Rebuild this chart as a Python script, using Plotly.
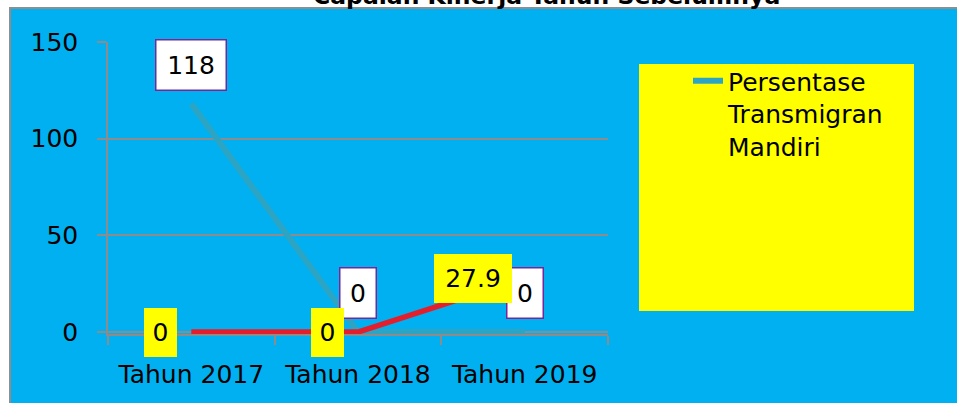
import plotly.graph_objects as go

# ---- data ----
categories = ["Tahun 2017", "Tahun 2018", "Tahun 2019"]
persentase_transmigran_mandiri = [118, 0, 0]
seri_kedua = [0, 0, 27.9]
y_ticks = [0, 50, 100, 150]
title_text = "Capaian Kinerja Tahun Sebelumnya"
legend_name = "Persentase<br>Transmigran<br>Mandiri"

# ---- layout constants ----
W, H = 957, 403
L, R, T, B = 108, 349, 42, 69
PW, PH = W - L - R, H - T - B
BLUE_BG = "#00B0F0"
LINE_BLUE = "#2CA5C5"
LINE_RED = "#E31E2D"
GRID = "#8C8C8C"
FONT = "DejaVu Sans"


def px_x(px):
    return (px - L) / PW


def px_y(py):
    return (H - B - py) / PH


def fmt(v):
    return f"{v:g}"


fig = go.Figure()
fig.add_trace(go.Scatter(
    x=categories, y=persentase_transmigran_mandiri, mode="lines",
    name=legend_name, line=dict(color=LINE_BLUE, width=6), showlegend=True,
    hoverinfo="skip"))
fig.add_trace(go.Scatter(
    x=categories, y=seri_kedua, mode="lines",
    name="", line=dict(color=LINE_RED, width=5.5), showlegend=False,
    hoverinfo="skip"))

annotations = []
# labels of blue series: white boxes above points
for c, v in zip(categories, persentase_transmigran_mandiri):
    t = fmt(v)
    annotations.append(dict(
        x=c, y=v, xref="x", yref="y", text=t, showarrow=False,
        yshift=39, font=dict(family=FONT, size=25, color="black"),
        bgcolor="white", bordercolor="#7A2496", borderwidth=1.5,
        width=max(32, 17 * len(t) + 16), height=47, align="center", valign="middle"))
# labels of red series: yellow boxes left of points
for c, v in zip(categories, seri_kedua):
    t = fmt(v)
    shift = -31 if len(t) == 1 else -52
    annotations.append(dict(
        x=c, y=v, xref="x", yref="y", text=t, showarrow=False,
        xshift=shift, font=dict(family=FONT, size=25, color="black"),
        bgcolor="#FFFF00", borderwidth=0,
        width=max(31, 16 * len(t) + 12), height=47, align="center", valign="middle"))
# title (cut off at top)
annotations.append(dict(
    x=px_x(546), y=px_y(12), xref="paper", yref="paper", text=f"<b>{title_text}</b>",
    showarrow=False, xanchor="center", yanchor="bottom",
    font=dict(family=FONT, size=23.5, color="black")))

shapes = [
    # blue chart background with gray border
    dict(type="rect", xref="paper", yref="paper",
         x0=px_x(10), x1=px_x(W + 40), y0=px_y(H + 40), y1=px_y(8),
         fillcolor=BLUE_BG, line=dict(color="#8E8E8E", width=2), layer="below"),
    # yellow legend box
    dict(type="rect", xref="paper", yref="paper",
         x0=px_x(639), x1=px_x(914), y0=px_y(311), y1=px_y(64),
         fillcolor="#FFFF00", line=dict(width=0), layer="below"),
]

fig.update_layout(
    width=W, height=H,
    margin=dict(l=L, r=R, t=T, b=B, pad=0),
    paper_bgcolor="white",
    plot_bgcolor="white",
    font=dict(family=FONT, size=25, color="black"),
    showlegend=True,
    legend=dict(x=px_x(688), y=px_y(58), xanchor="left", yanchor="top",
                bgcolor="rgba(0,0,0,0)", borderwidth=0, valign="top",
                font=dict(family=FONT, size=25, color="black")),
    annotations=annotations,
    shapes=shapes,
    xaxis=dict(type="category", categoryorder="array", categoryarray=categories,
               range=[-0.5, 2.5], tickson="boundaries",
               ticks="outside", ticklen=9, tickcolor=GRID, tickwidth=1.5,
               showline=True, linecolor=GRID, linewidth=1.5, showgrid=False,
               zeroline=False, layer="below traces", ticklabelstandoff=17,
               tickfont=dict(family=FONT, size=25, color="black")),
    yaxis=dict(range=[-1, 150], tickvals=y_ticks, ticktext=[str(v) for v in y_ticks],
               ticks="outside", ticklen=9, tickcolor=GRID, tickwidth=1.5,
               showline=True, linecolor=GRID, linewidth=1.5,
               showgrid=True, gridcolor=GRID, gridwidth=1.5, zeroline=False,
               ticklabelstandoff=14, layer="below traces",
               tickfont=dict(family=FONT, size=25, color="black")),
)

fig.write_html("out.html", config={"displayModeBar": False},
               post_script="document.body.style.margin='0';")
